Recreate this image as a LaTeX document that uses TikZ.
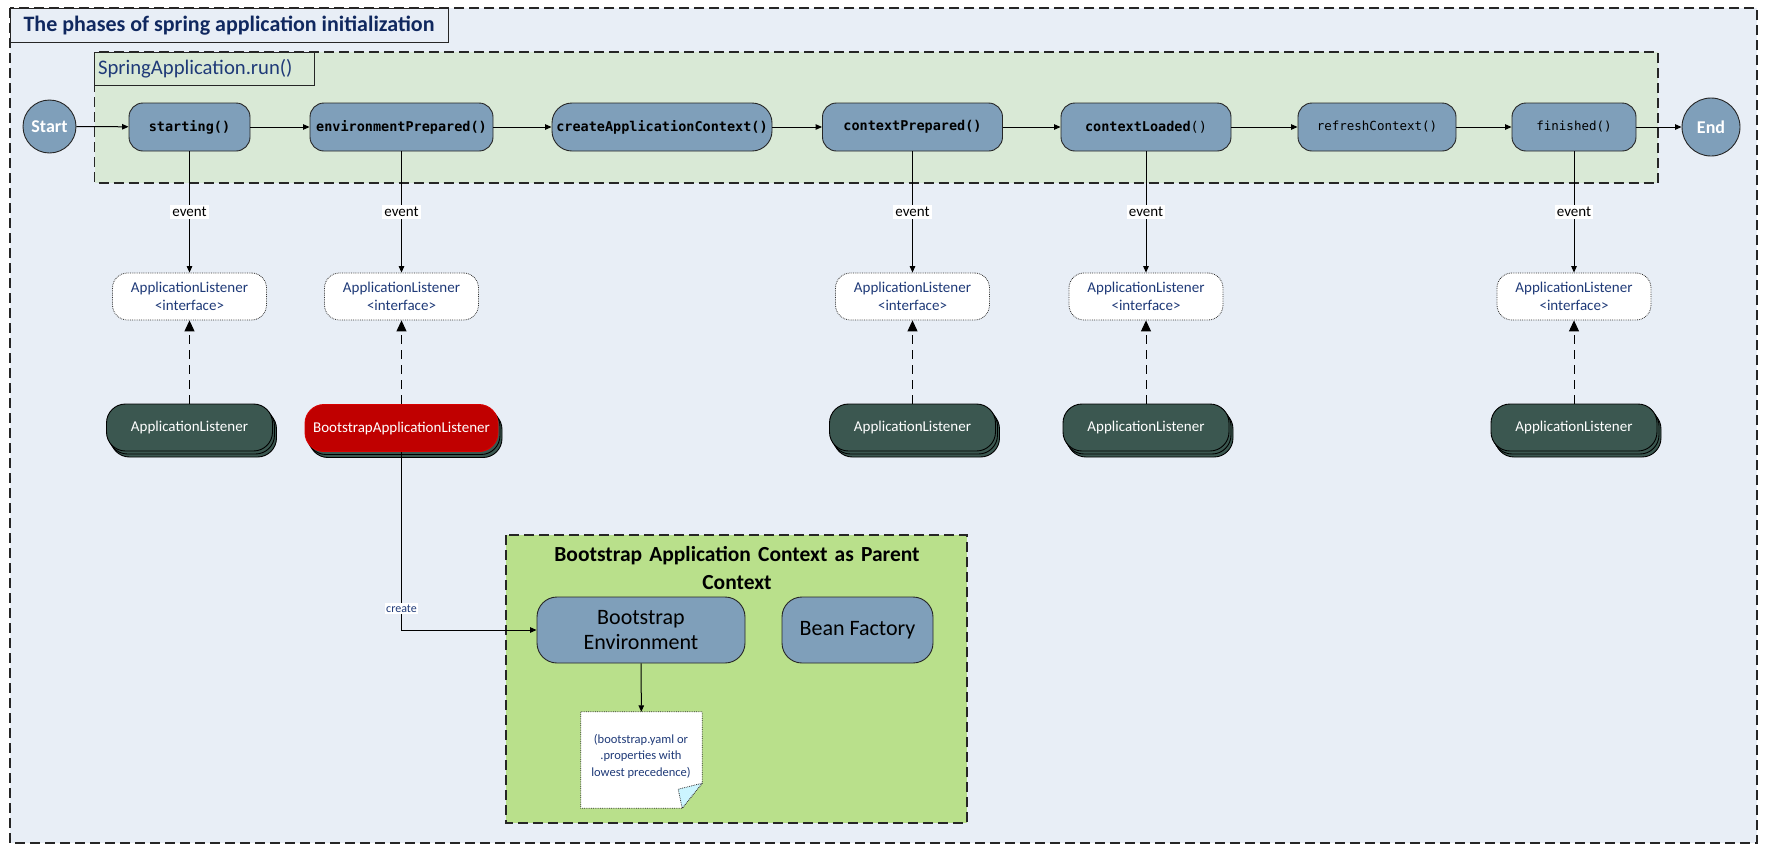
\documentclass[tikz,border=0pt]{standalone}
\usepackage{fontspec}
\setmainfont{Carlito}
\newfontfamily\monof{DejaVu Sans Mono}
\usetikzlibrary{arrows.meta,shadows,calc}
\definecolor{panelbg}{HTML}{E8EEF6}
\definecolor{runbg}{HTML}{D9E9D6}
\definecolor{procblue}{HTML}{7F9FBA}
\definecolor{lisdark}{HTML}{3B5750}
\definecolor{bsred}{HTML}{C00000}
\definecolor{ctxgreen}{HTML}{B9E08B}
\definecolor{navy}{HTML}{10285F}
\definecolor{ifnavy}{HTML}{1F3A78}
\definecolor{foldcyan}{HTML}{CCF5FF}
\tikzset{
  frame/.style={draw=black!85, line width=1.1pt, dash pattern=on 10pt off 5pt},
  proc/.style={draw=black!85, fill=procblue, line width=0.9pt, rounded corners=14pt,
    minimum height=48pt, inner sep=0pt, font=\monof\bfseries\fontsize{13.5}{15}\selectfont},
  procthin/.style={proc, font=\monof\fontsize{12.5}{14}\selectfont},
  terminal/.style={circle, draw=black!85, fill=procblue, line width=0.9pt, inner sep=0pt,
    text=white, font=\bfseries\fontsize{18}{20}\selectfont},
  iface/.style={draw=black!80, densely dotted, fill=white, rounded corners=15pt, line width=0.8pt,
    minimum width=154pt, minimum height=47pt, inner sep=0pt, align=center, text=ifnavy,
    font=\fontsize{15}{18}\selectfont},
  lis/.style={draw=black, fill=lisdark, rounded corners=19pt, line width=0.9pt,
    minimum width=166pt, minimum height=47pt, inner sep=0pt, text=white,
    font=\fontsize{15}{17}\selectfont,
    double copy shadow={shadow xshift=2pt, shadow yshift=-3pt, fill=lisdark, draw=black}},
  conn/.style={draw=black, line width=1pt, -{Triangle[width=5.5pt,length=6.5pt]}},
  dconn/.style={draw=black, line width=1pt, dash pattern=on 9pt off 6pt, -{Triangle[width=10pt,length=11pt]}},
  evlabel/.style={fill=white, inner sep=2pt, font=\fontsize{15}{17}\selectfont, text=black},
  ctxbox/.style={draw=black!85, fill=procblue, line width=0.9pt, rounded corners=20pt,
    minimum height=66pt, inner sep=0pt, align=center, font=\fontsize{22}{26}\selectfont}
}
\begin{document}
\begin{tikzpicture}[x=1pt,y=-1pt]
\useasboundingbox (0,0) rectangle (1767,855);
\fill[white] (0,0) rectangle (1767,855);
% outer panel
\path[frame, fill=panelbg] (10,8) rectangle (1757,843);
\node[draw=black!85, line width=1pt, fill=panelbg, minimum width=438pt, minimum height=34pt,
  inner sep=0pt, text=navy, font=\bfseries\fontsize{22}{24}\selectfont] (title) at (229,25.5) {The phases of spring application initialization};
% run box
\path[frame, fill=runbg] (94.5,52) rectangle (1658,183);
\node[draw=black!85, line width=1pt, text width=212pt, inner xsep=4pt, inner ysep=0pt,
  minimum height=33pt, align=left,
  text=ifnavy, font=\fontsize{20.7}{24}\selectfont] (runlabel) at (204,68.5) {SpringApplication.run()};
% main nodes
\node[terminal, minimum size=53pt] (start) at (49.5,126.5) {Start};
\node[proc, minimum width=121pt] (starting) at (189.5,127) {starting()};
\node[proc, minimum width=183pt] (envprep) at (401.5,127) {environmentPrepared()};
\node[proc, minimum width=220pt, rounded corners=20pt] (create) at (662,127) {createApplicationContext()};
\node[proc, minimum width=180pt] (ctxprep) at (912.5,127) {contextPrepared()};
\node[proc, minimum width=170pt] (ctxload) at (1146,127) {contextLoaded{\mdseries()}};
\node[procthin, minimum width=158pt] (refresh) at (1377,127) {refreshContext()};
\node[procthin, minimum width=124pt] (finished) at (1574,127) {finished()};
\node[terminal, minimum size=58pt] (end) at (1711,127) {End};
\draw[conn] (start) -- (starting);
\draw[conn] (starting) -- (envprep);
\draw[conn] (envprep) -- (create);
\draw[conn] (create) -- (ctxprep);
\draw[conn] (ctxprep) -- (ctxload);
\draw[conn] (ctxload) -- (refresh);
\draw[conn] (refresh) -- (finished);
\draw[conn] (finished) -- (end);
% interfaces
\node[iface] (if1) at (189.5,296.5) {ApplicationListener\\<interface>};
\node[iface] (if2) at (401.5,296.5) {ApplicationListener\\<interface>};
\node[iface] (if3) at (912.5,296.5) {ApplicationListener\\<interface>};
\node[iface] (if4) at (1146,296.5) {ApplicationListener\\<interface>};
\node[iface] (if5) at (1574,296.5) {ApplicationListener\\<interface>};
\draw[conn] (starting) -- node[evlabel]{event} (if1);
\draw[conn] (envprep) -- node[evlabel]{event} (if2);
\draw[conn] (ctxprep) -- node[evlabel]{event} (if3);
\draw[conn] (ctxload) -- node[evlabel]{event} (if4);
\draw[conn] (finished) -- node[evlabel]{event} (if5);
% listeners
\node[lis] (lis1) at (189.5,427.5) {ApplicationListener};
\node[lis, fill=bsred, draw=red!85!black, minimum width=193pt] (bsl) at (401.5,428) {BootstrapApplicationListener};
\node[lis] (lis3) at (912.5,427.5) {ApplicationListener};
\node[lis] (lis4) at (1146,427.5) {ApplicationListener};
\node[lis] (lis5) at (1574,427.5) {ApplicationListener};
\draw[dconn] (lis1) -- (if1);
\draw[dconn] (bsl) -- (if2);
\draw[dconn] (lis3) -- (if3);
\draw[dconn] (lis4) -- (if4);
\draw[dconn] (lis5) -- (if5);
% bootstrap context
\path[frame, fill=ctxgreen] (506,535) rectangle (967,823);
\node[text width=450pt, align=center, inner sep=0pt, font=\bfseries\fontsize{21.5}{28}\selectfont] (ctxtitle) at (737,568) {Bootstrap Application Context as Parent\\Context};
\node[ctxbox, minimum width=208pt] (bootenv) at (641,630) {Bootstrap\\[-1pt]Environment};
\node[ctxbox, minimum width=151pt] (beanf) at (857.5,630) {Bean Factory};
\node[minimum width=121pt, minimum height=96pt, inner sep=0pt] (note) at (641.5,760) {};
\draw[draw=black!80, densely dotted, fill=white, line width=0.8pt]
  (note.north west) -- (note.north east) -- ($(note.south east)+(0pt,25pt)$)
  -- ($(note.south east)+(-20pt,0pt)$) -- (note.south west) -- cycle;
\draw[draw=black!80, densely dotted, fill=foldcyan, line width=0.8pt]
  ($(note.south east)+(0pt,25pt)$) -- ($(note.south east)+(-24pt,19pt)$)
  -- ($(note.south east)+(-20pt,0pt)$) -- cycle;
\node[align=center, inner sep=0pt, text=ifnavy, font=\fontsize{12.5}{16.5}\selectfont] (notetext) at (641,756)
  {(bootstrap.yaml or\\.properties with\\lowest precedence)};
\draw[conn] (bootenv) -- (note);
\draw[conn] (bsl.south) |- node[pos=0.44, fill=white, inner sep=1.5pt, text=ifnavy,
  font=\fontsize{12}{14}\selectfont]{create} (bootenv.west);
\end{tikzpicture}
\end{document}
